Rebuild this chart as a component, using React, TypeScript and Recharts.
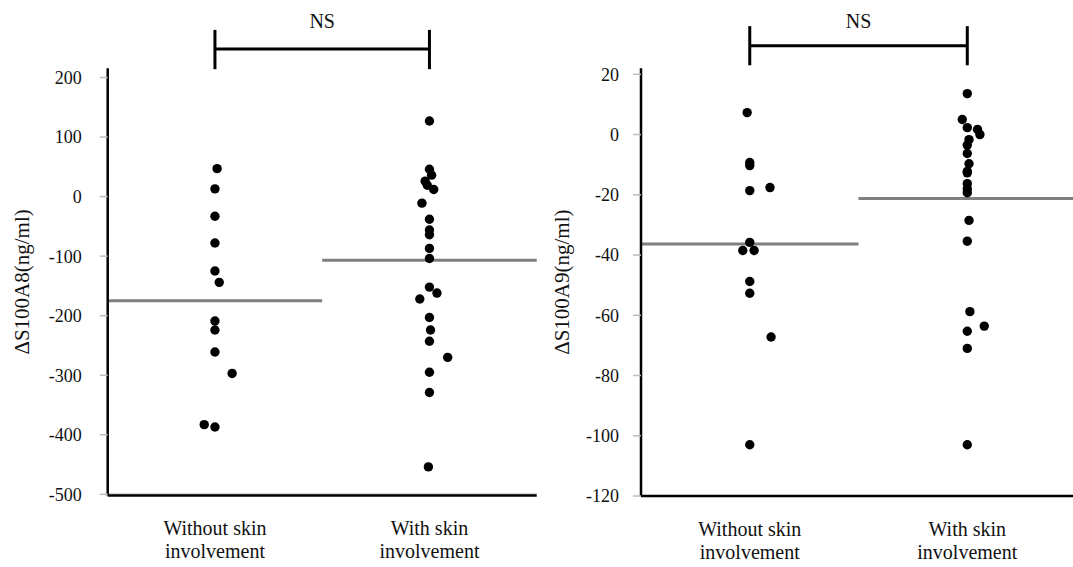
import React from 'react';
import { ScatterChart, Scatter, XAxis, YAxis, ReferenceLine } from 'recharts';

const FONT = "'Liberation Serif', 'Times New Roman', serif";

// Categories (two-line labels)
const categoryLines: string[][] = [
  ['Without skin', 'involvement'],
  ['With skin', 'involvement'],
];

// ΔS100A8 panel
const a8Ticks = [-500, -400, -300, -200, -100, 0, 100, 200];
const a8Domain: [number, number] = [-502, 215.5];
const a8Without = [47, 13, -33, -78, -125, -144, -209, -224, -261, -297, -383, -387];
const a8WithoutJitter = [0.01, 0, 0, 0, 0, 0.02, 0, 0, 0, 0.08, -0.05, 0];
const a8With = [127, 46, 36, 26, 19, 12, -11, -38, -56, -64, -87, -104, -152, -162, -172, -203, -224, -243, -270, -295, -329, -454];
const a8WithJitter = [0, 0, 0.01, -0.02, -0.01, 0.02, -0.035, 0, 0, 0, 0, 0, 0, 0.035, -0.045, 0, 0.005, 0, 0.085, 0, 0, -0.005];
const a8Means = [-175, -107];
const a8Bracket = { low: 214, high: 280, bar: 248 };

// ΔS100A9 panel
const a9Ticks = [-120, -100, -80, -60, -40, -20, 0, 20];
const a9Domain: [number, number] = [-120, 22];
const a9Without = [7.3, -9.3, -10.3, -17.6, -18.6, -35.8, -38.5, -38.5, -48.8, -52.7, -67.2, -103];
const a9WithoutJitter = [-0.012, 0, 0, 0.093, 0, 0, -0.032, 0.02, 0, 0, 0.098, 0];
const a9With = [13.6, 5, 2.3, 1.7, 0, -1.7, -3.5, -6.3, -9.7, -12.2, -12.7, -16.3, -18, -19.3, -28.5, -35.4, -58.8, -63.6, -65.3, -71, -103];
const a9WithJitter = [0, -0.023, 0, 0.047, 0.058, 0.008, 0, 0, 0.008, 0, 0, 0, 0, 0, 0.008, 0, 0.012, 0.078, 0, 0, 0];
const a9Means = [-36.3, -21.2];
const a9Bracket = { low: 23, high: 36, bar: 29.5 };

const toPoints = (vals: number[], jit: number[], cat: number) =>
  vals.map((v, i) => ({ x: cat + (jit[i] || 0), y: v }));

const Dot = (p: any) => <circle cx={p.cx} cy={p.cy} r={4.7} fill="#000" />;

const CatTick = (props: any) => {
  const { x, y, payload } = props;
  const lines = categoryLines[Math.round(payload.value) - 1] || [];
  return (
    <text x={x} y={y} textAnchor="middle" fontFamily={FONT} fontSize={20} fill="#111">
      <tspan x={x} dy={39.5}>{lines[0]}</tspan>
      <tspan x={x} dy={23}>{lines[1]}</tspan>
    </text>
  );
};

type PanelProps = {
  width: number;
  height: number;
  yAxisWidth: number;
  margin: { top: number; right: number; bottom: number; left: number };
  xMax: number;
  domain: [number, number];
  ticks: number[];
  without: number[];
  withoutJitter: number[];
  withVals: number[];
  withJitter: number[];
  means: number[];
  bracket: { low: number; high: number; bar: number };
  yLabel: string;
  yLabelX: number;
  tickMargin: number;
  nsOffset: number;
  baseLine?: number;
};

const Panel = (p: PanelProps) => {
  const withoutPts = toPoints(p.without, p.withoutJitter, 1);
  const withPts = toPoints(p.withVals, p.withJitter, 2);
  return (
    <ScatterChart width={p.width} height={p.height} margin={p.margin}>
      <XAxis
        type="number"
        dataKey="x"
        domain={[0.5, p.xMax]}
        ticks={[1, 2]}
        interval={0}
        allowDataOverflow
        tickLine={false}
        tickSize={0}
        tickMargin={0}
        height={60}
        axisLine={{ stroke: '#000', strokeWidth: 2.5 }}
        tick={<CatTick />}
      />
      <YAxis
        type="number"
        dataKey="y"
        domain={p.domain}
        ticks={p.ticks}
        interval={0}
        allowDataOverflow
        width={p.yAxisWidth}
        tickSize={8}
        tickMargin={p.tickMargin}
        tickLine={{ stroke: '#bdbdbd', strokeWidth: 1.5 }}
        axisLine={{ stroke: '#000', strokeWidth: 2.5 }}
        tick={{ fontSize: 18, fill: '#111', fontFamily: FONT }}
        label={{
          content: (lp: any) => {
            const vb = lp.viewBox || {};
            const cx = (vb.x || 0) + p.yLabelX;
            const cy = (vb.y || 0) + (vb.height || 0) / 2;
            return (
              <text
                x={cx}
                y={cy}
                transform={`rotate(-90 ${cx} ${cy})`}
                textAnchor="middle"
                dominantBaseline="central"
                fontFamily={FONT}
                fontSize={21}
                fill="#111"
              >
                {p.yLabel}
              </text>
            );
          },
        }}
      />
      {p.baseLine !== undefined && (
        <ReferenceLine y={p.baseLine} stroke="#c4c4c4" strokeWidth={2} ifOverflow="visible" />
      )}
      <ReferenceLine
        segment={[{ x: 0.5, y: p.means[0] }, { x: 1.5, y: p.means[0] }]}
        stroke="#7f7f7f"
        strokeWidth={3}
        ifOverflow="visible"
      />
      <ReferenceLine
        segment={[{ x: 1.5, y: p.means[1] }, { x: p.xMax, y: p.means[1] }]}
        stroke="#7f7f7f"
        strokeWidth={3}
        ifOverflow="visible"
      />
      <ReferenceLine
        segment={[{ x: 1, y: p.bracket.bar }, { x: 2, y: p.bracket.bar }]}
        stroke="#000"
        strokeWidth={3}
        ifOverflow="visible"
        label={{ value: 'NS', position: 'top', offset: p.nsOffset, fontFamily: FONT, fontSize: 20, fill: '#111' }}
      />
      <ReferenceLine
        segment={[{ x: 1, y: p.bracket.low }, { x: 1, y: p.bracket.high }]}
        stroke="#000"
        strokeWidth={3}
        ifOverflow="visible"
      />
      <ReferenceLine
        segment={[{ x: 2, y: p.bracket.low }, { x: 2, y: p.bracket.high }]}
        stroke="#000"
        strokeWidth={3}
        ifOverflow="visible"
      />
      <Scatter data={withoutPts} fill="#000" shape={<Dot />} isAnimationActive={false} />
      <Scatter data={withPts} fill="#000" shape={<Dot />} isAnimationActive={false} />
    </ScatterChart>
  );
};

export default function App() {
  return (
    <div
      style={{
        position: 'fixed',
        left: 0,
        top: 0,
        width: 1073,
        height: 567,
        display: 'flex',
        background: '#fff',
        overflow: 'hidden',
      }}
    >
      <Panel
        width={548}
        height={567}
        yAxisWidth={107.7}
        margin={{ top: 68.3, right: 11.3, bottom: 11.5, left: 0 }}
        xMax={2.5}
        domain={a8Domain}
        ticks={a8Ticks}
        without={a8Without}
        withoutJitter={a8WithoutJitter}
        withVals={a8With}
        withJitter={a8WithJitter}
        means={a8Means}
        bracket={a8Bracket}
        yLabel="ΔS100A8(ng/ml)"
        yLabelX={22.5}
        tickMargin={18}
        nsOffset={21}
        baseLine={-500}
      />
      <Panel
        width={525}
        height={567}
        yAxisWidth={93}
        margin={{ top: 68.3, right: 0, bottom: 11, left: 0 }}
        xMax={2.486}
        domain={a9Domain}
        ticks={a9Ticks}
        without={a9Without}
        withoutJitter={a9WithoutJitter}
        withVals={a9With}
        withJitter={a9WithJitter}
        means={a9Means}
        bracket={a9Bracket}
        yLabel="ΔS100A9(ng/ml)"
        yLabelX={14.5}
        tickMargin={14}
        nsOffset={18}
      />
    </div>
  );
}
